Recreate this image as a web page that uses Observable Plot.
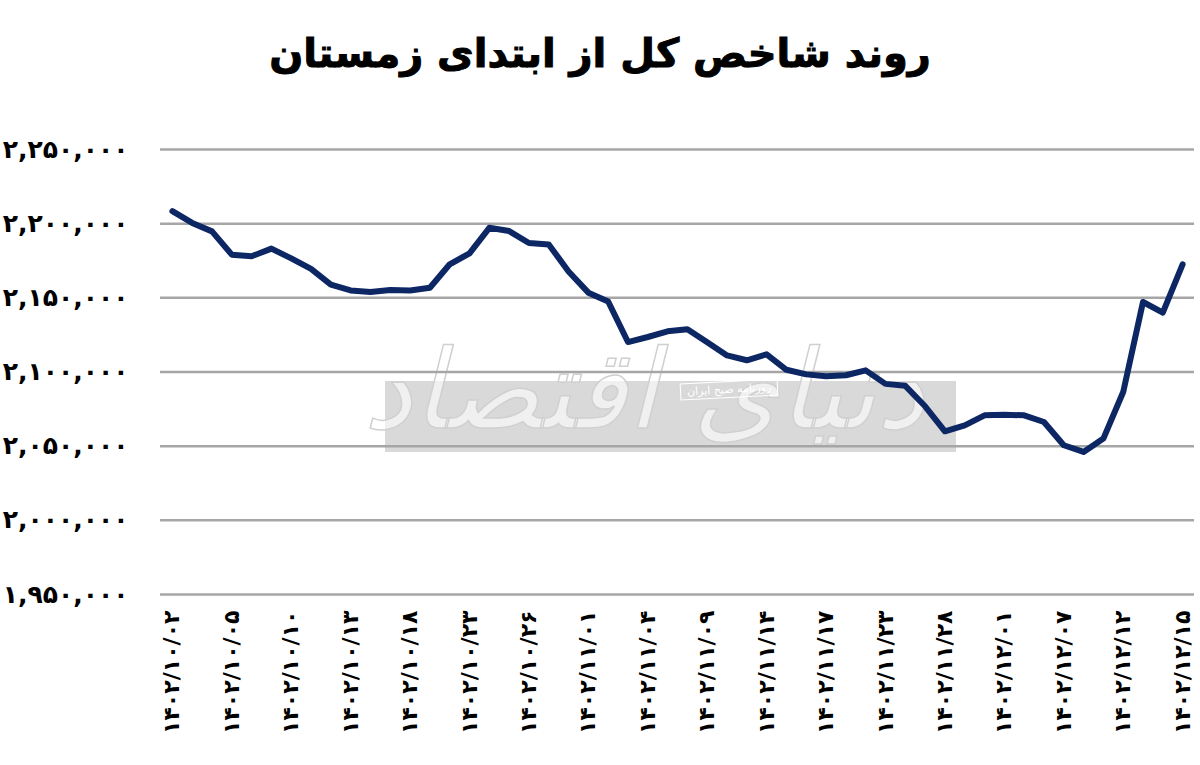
<!DOCTYPE html>
<html>
<head>
<meta charset="utf-8">
<script src="https://cdn.jsdelivr.net/npm/d3@7"></script>
<script src="https://cdn.jsdelivr.net/npm/@observablehq/plot@0.6"></script>
<style>
  html, body { margin: 0; padding: 0; background: #fff; }
  #wrap { position: relative; width: 1200px; height: 765px; overflow: hidden; }
  #title { height: 100px; width: 1200px; text-align: center; font-family: "DejaVu Sans", sans-serif; font-weight: bold; font-size: 40px; line-height: 106px; color: #000; direction: rtl; -webkit-text-stroke: 1px #000; }
  #chart { position: relative; z-index: 2; }
  #chart svg { background: transparent; }
  #wm { position: absolute; z-index: 1; left: 385px; top: 381px; width: 571px; height: 71px; background: #d9d9d9; }
  #wm .small { position: absolute; left: 295px; top: 0px; padding: 1px 6px; border: 1px solid #fff; color: #fff; font-family: "DejaVu Sans", sans-serif; font-size: 11px; direction: rtl; transform: rotate(-3deg); }
  #wm .big { position: absolute; left: 40px; top: -55px; width: 500px; text-align: center; font-family: "DejaVu Sans", sans-serif; font-size: 110px; font-style: italic; color: rgba(255,255,255,0.6); -webkit-text-stroke: 1.5px #d0d0d0; direction: rtl; white-space: nowrap; }
</style>
</head>
<body>
<div id="wrap">
  <div id="title">روند شاخص کل از ابتدای زمستان</div>
  <div id="wm"><div class="big">دنیای اقتصاد</div><div class="small">روزنامه صبح ایران</div></div>
  <div id="chart"></div>
</div>
<script>
const dates = ["1402/10/02","1402/10/03","1402/10/04","1402/10/05","1402/10/06","1402/10/09","1402/10/10","1402/10/11","1402/10/12","1402/10/13","1402/10/16","1402/10/17","1402/10/18","1402/10/19","1402/10/20","1402/10/23","1402/10/24","1402/10/25","1402/10/26","1402/10/27","1402/10/30","1402/11/01","1402/11/02","1402/11/03","1402/11/04","1402/11/07","1402/11/08","1402/11/09","1402/11/10","1402/11/11","1402/11/14","1402/11/15","1402/11/16","1402/11/17","1402/11/18","1402/11/21","1402/11/23","1402/11/24","1402/11/25","1402/11/28","1402/11/29","1402/11/30","1402/12/01","1402/12/02","1402/12/05","1402/12/07","1402/12/08","1402/12/09","1402/12/12","1402/12/13","1402/12/14","1402/12/15"];

const values = [2208400, 2200500, 2194800, 2179100, 2178000, 2183200, 2176600, 2169500, 2158900, 2155000,
  2153900, 2155300, 2155000, 2156800, 2172600, 2180000, 2197200, 2195000, 2187000, 2186000,
  2167800, 2153500, 2147500, 2120200, 2123600, 2127400, 2128800, 2120000, 2111200, 2107900,
  2111900, 2101500, 2098400, 2097100, 2097800, 2101100, 2092000, 2090700, 2076900, 2060000,
  2064000, 2070800, 2071200, 2070800, 2066300, 2050600, 2046100, 2055100, 2086500, 2147200,
  2140000, 2172600];

const xTickLabels = ["1402/10/02","1402/10/05","1402/10/10","1402/10/13","1402/10/18","1402/10/23","1402/10/26","1402/11/01","1402/11/04","1402/11/09","1402/11/14","1402/11/17","1402/11/23","1402/11/28","1402/12/01","1402/12/07","1402/12/12","1402/12/15"];

const yTicks = [1950000, 2000000, 2050000, 2100000, 2150000, 2200000, 2250000];

const faDigits = "۰۱۲۳۴۵۶۷۸۹";
const toFa = s => String(s).replace(/[0-9]/g, d => faDigits[+d]);

const data = dates.map((d, i) => ({date: d, value: values[i]}));

const chart = Plot.plot({
  width: 1200,
  height: 665,
  marginTop: 49,
  marginBottom: 171,
  marginLeft: 160,
  marginRight: 6,
  style: {fontFamily: "DejaVu Sans, sans-serif", background: "transparent", color: "#000"},
  x: {type: "point", domain: dates, padding: 0.6},
  y: {domain: [1950000, 2250000]},
  marks: [
    Plot.ruleY(yTicks, {stroke: "#a6a6a6", strokeWidth: 2.5}),
    Plot.axisY({ticks: yTicks, tickSize: 0, tickPadding: 32, tickFormat: v => toFa(d3.format(",")(v)), fontSize: 25, fontWeight: "bold", stroke: "#000", strokeWidth: 0.6, label: null}),
    Plot.axisX({ticks: xTickLabels, tickSize: 0, tickPadding: 16, tickRotate: -90, tickFormat: d => toFa(d), fontSize: 22, fontWeight: "bold", stroke: "#000", strokeWidth: 0.6, label: null}),
    Plot.line(data, {x: "date", y: "value", stroke: "#0d2764", strokeWidth: 6, strokeLinejoin: "round", strokeLinecap: "round"})
  ]
});
document.getElementById("chart").appendChild(chart);
</script>
</body>
</html>
